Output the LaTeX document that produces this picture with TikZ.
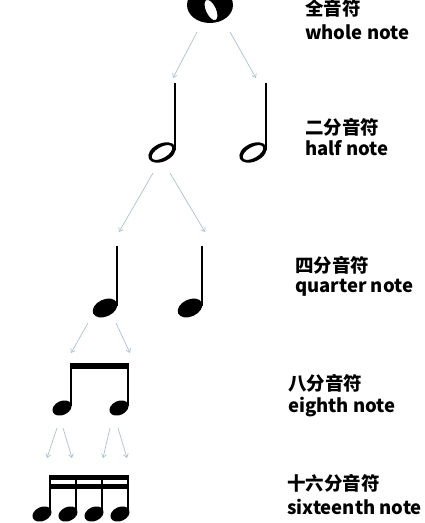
\documentclass[tikz,border=0pt]{standalone}
\usepackage{fontspec}
\newfontfamily\cjk{Noto Sans CJK SC}
\usetikzlibrary{arrows.meta}
\definecolor{arrowgrey}{RGB}{168,194,210}

\begin{document}
\begin{tikzpicture}[x=1pt,y=-1pt,
	flow/.style={arrowgrey,line width=0.7pt,-{Straight Barb[length=3.5pt,width=5pt]}},
	stem/.style={line width=2.8pt},
	label/.style={anchor=west,inner sep=0pt,font=\cjk\bfseries\fontsize{18.5}{18.5}\selectfont}]
	\useasboundingbox (0,0) rectangle (425,523);
	% whole note
	\fill[even odd rule] (210,5) ellipse (23 and 18)
		[rotate around={25:(211,10)}] (211,10) ellipse (5 and 11);
	\coordinate (w1) at (197,32);  \coordinate (w2) at (230,32);
	% half notes
	\foreach \x/\n in {162/h1,253/h2}{
		\fill[even odd rule,rotate around={25:(\x,152.5)}] (\x,152.5) ellipse (14.5 and 9)
			[rotate around={5:(\x,152.5)}] (\x,152.5) ellipse (11.5 and 5.5);
		\draw[stem] (\x+13,83) -- (\x+13,150);
	}
	\coordinate (h1s) at (153,173); \coordinate (h2s) at (170,173);
	% quarter notes
	\foreach \x in {105,190}{
		\fill[rotate around={25:(\x,308)}] (\x,308) ellipse (13 and 8.5);
		\draw[stem] (\x+12,246) -- (\x+12,306);
	}
	\coordinate (q1) at (119,232); \coordinate (q2) at (205,232);
	\coordinate (q1s) at (88,323); \coordinate (q2s) at (116,323);
	% eighth notes
	\foreach \x in {62,119}{
		\fill[rotate around={25:(\x,408)}] (\x,408) ellipse (10 and 7);
		\draw[line width=2.3pt] (\x+9,365) -- (\x+9,406);
	}
	\fill (70,363) rectangle (129,368.5);
	\coordinate (e1) at (71,353); \coordinate (e2) at (130,353);
	% sixteenth notes
	\foreach \x in {42,68,94,120}{
		\fill[rotate around={25:(\x,514)}] (\x,514) ellipse (10 and 7);
		\draw[line width=2pt] (\x+8,476) -- (\x+8,512);
	}
	\fill (49,475) rectangle (129,480);
	\fill (49,484) rectangle (129,489);
	\foreach \a/\b/\c/\d in {57/47/63/72,110/103/118/127}{
		\draw[flow] (\a,428) -- (\b,458);
		\draw[flow] (\c,428) -- (\d,458);
	}
	% arrows
	\draw[flow] (w1) -- (173,78);
	\draw[flow] (w2) -- (256,78);
	\draw[flow] (h1s) -- (q1);
	\draw[flow] (h2s) -- (q2);
	\draw[flow] (q1s) -- (e1);
	\draw[flow] (q2s) -- (e2);
	% labels
	\node[label] (zh1) at (305,8) {全音符};
	\node[label] (en1) at (305,32) {whole note};
	\node[label] (zh2) at (305,127) {二分音符};
	\node[label] (en2) at (305,148) {half note};
	\node[label] (zh4) at (295,265) {四分音符};
	\node[label] (en4) at (295,288) {quarter note};
	\node[label] (zh8) at (288,383) {八分音符};
	\node[label] (en8) at (288,407) {eighth note};
	\node[label] (zh16) at (287,483) {十六分音符};
	\node[label] (en16) at (287,507) {sixteenth note};
\end{tikzpicture}
\end{document}
